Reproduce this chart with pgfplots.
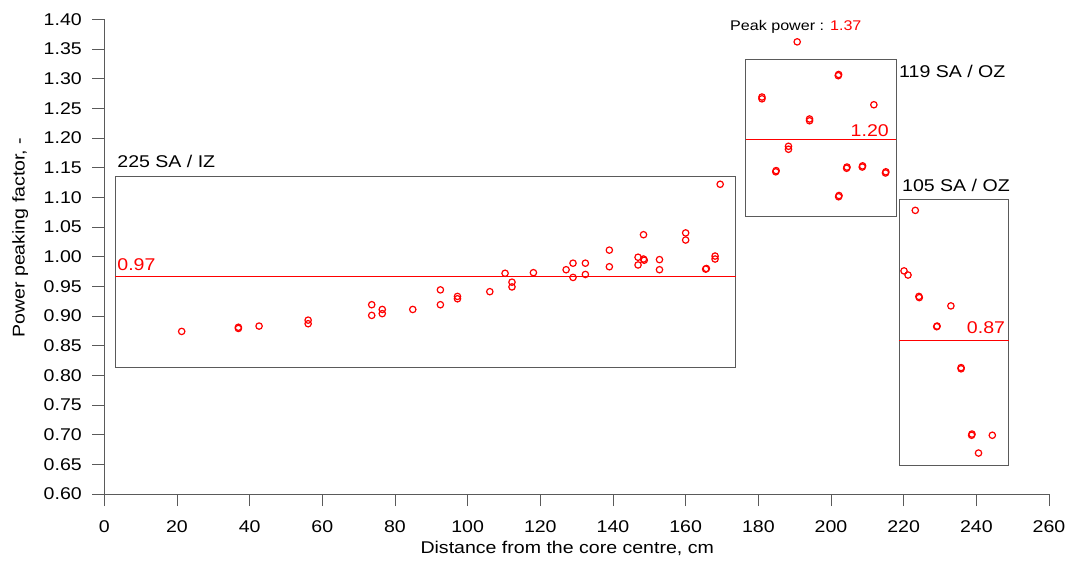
\documentclass[border=0pt]{standalone}
\usepackage{pgfplots}
\pgfplotsset{compat=1.18}
\usepackage{fontspec}
\setmainfont[FakeStretch=1.15]{Liberation Sans}
\definecolor{axgray}{RGB}{90,90,90}
\definecolor{ptred}{RGB}{255,0,0}
\begin{document}
\begin{tikzpicture}
\useasboundingbox (-104.3pt,-69pt) rectangle (964.7pt,494pt);
\begin{axis}[
  name=ax,
  scale only axis,
  width=944.7pt, height=474.7pt,
  xmin=0, xmax=260, ymin=0.60, ymax=1.40,
  axis lines=left,
  axis line style={axgray, line width=0.8pt, -},
  xtick={0,20,...,260},
  ytick={0.60,0.65,...,1.41},
  tick align=outside,
  major tick length=12pt,
  tick style={axgray, line width=0.8pt},
  /pgf/number format/assume math mode=true,
  yticklabel style={xshift=-7pt, /pgf/number format/.cd, fixed, fixed zerofill, precision=2},
  xticklabel style={yshift=-11pt},
  ticklabel style={font=\fontsize{17}{20}\selectfont},
  xlabel={Distance from the core centre, cm},
  ylabel={Power peaking factor, -},
  label style={font=\fontsize{17}{20}\selectfont},
  xlabel style={at={(axis description cs:0.49,-0.114)}, anchor=center},
  ylabel style={at={(axis description cs:-0.089,0.54)}, anchor=center},
  clip=false,
]
% boxes
\draw[axgray, line width=0.8pt] (axis cs:3,0.814) rectangle (axis cs:173.8,1.136);
\draw[axgray, line width=0.8pt] (axis cs:176.5,1.0676) rectangle (axis cs:217.9,1.332);
\draw[axgray, line width=0.8pt] (axis cs:218.7,0.649) rectangle (axis cs:248.9,1.096);
% mean lines
\addplot[color=ptred, draw=ptred, line width=0.8pt, no marks] coordinates {(176.5,1.197) (217.9,1.197)};
\addplot[color=ptred, draw=ptred, line width=0.8pt, no marks] coordinates {(218.7,0.859) (248.9,0.859)};
\addplot[color=ptred, draw=ptred, line width=1pt, no marks] coordinates {(3,0.9665) (173.8,0.9665)};
% data
\addplot[only marks, mark=o, mark size=3.2pt, color=ptred, line width=1.2pt] coordinates {
(21.3,0.874) (36.9,0.881) (36.9,0.879) (42.6,0.883) (56.1,0.893) (56.1,0.887)
(73.6,0.919) (73.6,0.901) (76.5,0.911) (76.5,0.904) (84.9,0.911)
(92.5,0.944) (92.5,0.919) (97.2,0.933) (97.2,0.929) (106.1,0.941)
(110.3,0.972) (112.2,0.957) (112.2,0.949) (118.1,0.973) (127.1,0.978)
(129.0,0.989) (129.0,0.965) (132.4,0.989) (132.4,0.970) (139.0,1.011)
(139.0,0.983) (146.9,0.999) (146.9,0.986) (148.4,1.037) (148.4,0.996)
(148.6,0.994) (152.8,0.995) (152.8,0.978) (160.0,1.040) (160.0,1.028)
(165.5,0.979) (165.7,0.980) (168.1,1.001) (168.1,0.996) (169.5,1.122)
};
\addplot[only marks, mark=o, mark size=3.2pt, color=ptred, line width=1.2pt] coordinates {
(181.0,1.269) (181.0,1.266) (184.8,1.143) (184.9,1.145) (188.3,1.186) (188.3,1.181)
(190.7,1.362) (194.1,1.232) (194.1,1.229) (202.0,1.305) (202.1,1.307)
(202.1,1.101) (202.2,1.103) (204.3,1.149) (204.4,1.151) (208.6,1.151)
(208.7,1.153) (211.8,1.256) (215.0,1.141) (215.1,1.143)
};
\addplot[only marks, mark=o, mark size=3.2pt, color=ptred, line width=1.2pt] coordinates {
(223.2,1.078) (220.1,0.976) (221.2,0.969) (224.2,0.933) (224.3,0.931)
(233.0,0.917) (229.1,0.882) (229.2,0.883) (235.8,0.811) (235.8,0.813)
(238.7,0.699) (238.8,0.701) (244.4,0.699) (240.6,0.669)
};
% labels
\node[anchor=south west, inner sep=2pt, yshift=6pt, font=\fontsize{17}{20}\selectfont] at (axis cs:3,1.136) {225 SA / IZ};
\node[anchor=south west, inner sep=2pt, yshift=3pt, text=ptred, font=\fontsize{17}{20}\selectfont] at (axis cs:3,0.968) {0.97};
\node[anchor=north west, inner sep=3pt, yshift=-4pt, font=\fontsize{17}{20}\selectfont] at (axis cs:217.9,1.334) {119 SA / OZ};
\node[anchor=south west, inner sep=3pt, yshift=5pt, font=\fontsize{17}{20}\selectfont] at (axis cs:218.7,1.096) {105 SA / OZ};
\node[anchor=south east, inner sep=2pt, yshift=1pt, text=ptred, font=\fontsize{17}{20}\selectfont] at (axis cs:216.5,1.197) {1.20};
\node[anchor=south east, inner sep=2pt, yshift=4pt, text=ptred, font=\fontsize{17}{20}\selectfont] at (axis cs:248.5,0.859) {0.87};
\node[anchor=west, inner sep=0pt, font=\fontsize{14}{17}\selectfont] at (axis cs:172.2,1.388) {Peak power : \textcolor{ptred}{1.37}};
\end{axis}
\end{tikzpicture}
\end{document}
